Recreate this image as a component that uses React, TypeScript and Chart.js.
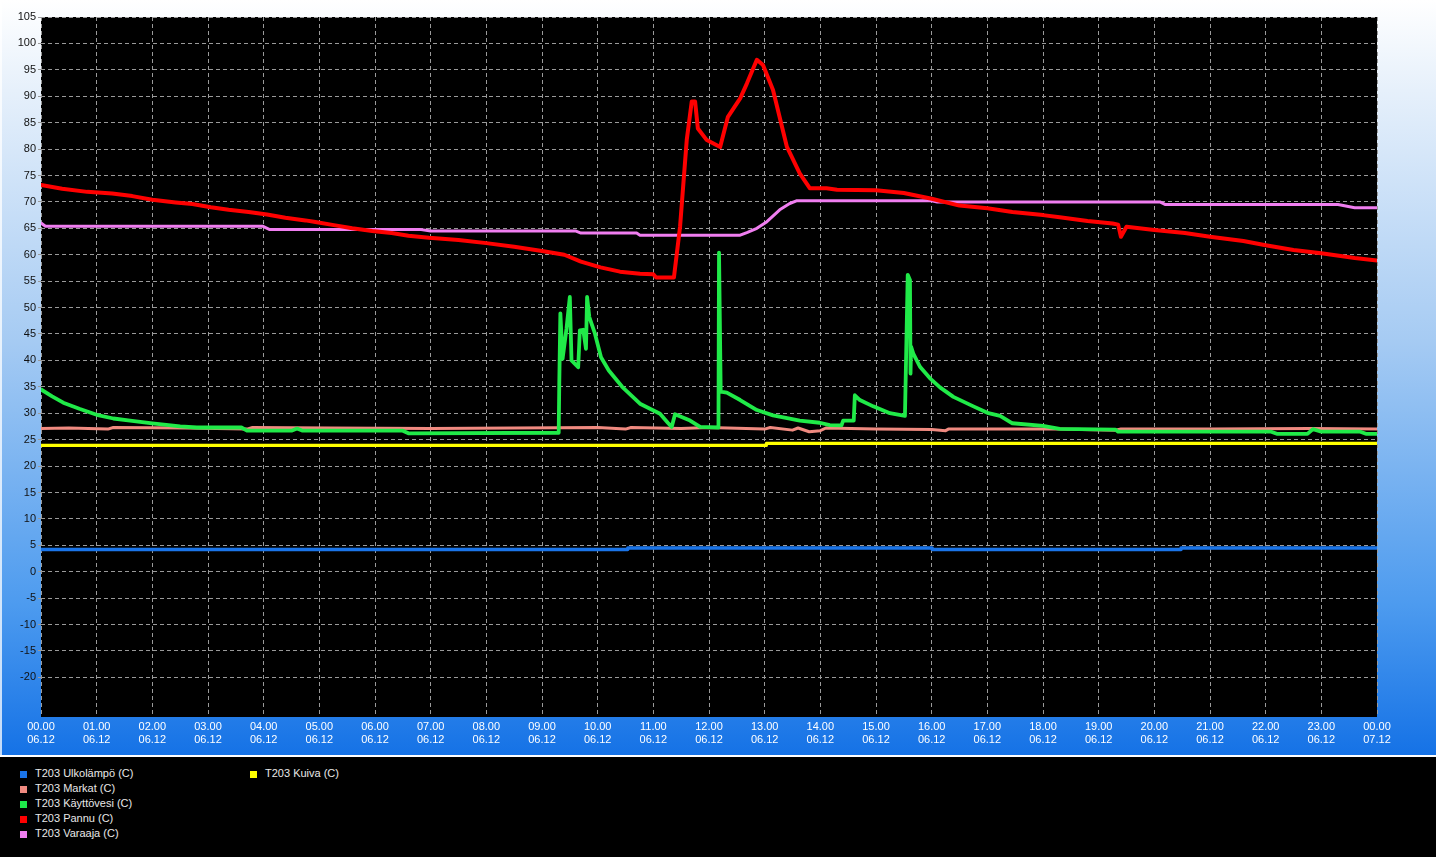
import React, { useEffect, useRef } from 'react';
import { Chart, registerables } from 'chart.js';

Chart.register(...registerables);

// ---------- tick labels ----------
const yTickValues = [-20, -15, -10, -5, 0, 5, 10, 15, 20, 25, 30, 35, 40, 45, 50, 55, 60, 65, 70, 75, 80, 85, 90, 95, 100, 105];
const xTickTimes = ['00.00', '01.00', '02.00', '03.00', '04.00', '05.00', '06.00', '07.00', '08.00', '09.00', '10.00', '11.00', '12.00', '13.00', '14.00', '15.00', '16.00', '17.00', '18.00', '19.00', '20.00', '21.00', '22.00', '23.00', '00.00'];
const xTickDates = ['06.12', '06.12', '06.12', '06.12', '06.12', '06.12', '06.12', '06.12', '06.12', '06.12', '06.12', '06.12', '06.12', '06.12', '06.12', '06.12', '06.12', '06.12', '06.12', '06.12', '06.12', '06.12', '06.12', '06.12', '07.12'];

// ---------- series (time in hours, value in °C) ----------
const ulkoT = [0, 10.54, 10.54, 16.01, 16.01, 20.48, 20.48, 24];
const ulkoV = [4.2, 4.2, 4.5, 4.5, 4.2, 4.2, 4.5, 4.5];

const kuivaT = [0, 13.03, 13.03, 24];
const kuivaV = [23.9, 23.9, 24.3, 24.3];

const markatT = [0, 0.5, 1.2, 1.3, 2.6, 3.7, 3.8, 5.2, 7.0, 8.5, 10.0, 10.5, 10.6, 11.5, 12.0, 13.0, 13.1, 13.5, 13.6, 13.8, 14.0, 14.1, 15.0, 16.0, 16.25, 16.3, 18.3, 19.3, 19.4, 21.0, 22.8, 24];
const markatV = [27.1, 27.2, 27.0, 27.3, 27.2, 27.0, 27.3, 27.2, 27.1, 27.2, 27.3, 27.0, 27.3, 27.1, 27.3, 27.0, 27.3, 26.8, 27.2, 26.5, 26.7, 27.2, 27.0, 26.9, 26.7, 27.0, 27.0, 26.8, 27.0, 27.0, 27.1, 27.0];

const kayttoT = [0, 0.2, 0.4, 0.7, 1.0, 1.3, 1.6, 2.0, 2.5, 2.8, 3.6, 3.7, 4.5, 4.6, 4.7, 6.5, 6.6, 9.3, 9.31, 9.33, 9.37, 9.44, 9.5, 9.53, 9.65, 9.68, 9.74, 9.79, 9.81, 9.85, 9.95, 10.06, 10.2, 10.44, 10.76, 11.12, 11.26, 11.33, 11.39, 11.66, 11.84, 12.17, 12.18, 12.21, 12.32, 12.56, 12.86, 13.15, 13.45, 13.63, 13.99, 14.17, 14.38, 14.41, 14.6, 14.62, 14.71, 14.95, 15.25, 15.52, 15.57, 15.61, 15.62, 15.63, 15.67, 15.79, 15.97, 16.15, 16.39, 16.75, 17.02, 17.23, 17.45, 18.0, 18.3, 19.3, 19.35, 22.1, 22.2, 22.75, 22.85, 23.0, 23.7, 23.8, 24];
const kayttoV = [34.5, 33.2, 32.0, 30.8, 29.7, 29.0, 28.6, 28.1, 27.5, 27.3, 27.3, 26.7, 26.7, 27.1, 26.7, 26.7, 26.2, 26.3, 35.3, 48.9, 40.3, 46.0, 52.0, 40.0, 38.7, 45.7, 45.8, 42.2, 52.0, 48.2, 45.1, 40.6, 38.1, 35.0, 31.8, 29.9, 28.2, 27.4, 29.8, 28.6, 27.4, 27.3, 60.4, 34.1, 33.9, 32.5, 30.6, 29.6, 29.0, 28.6, 28.2, 27.75, 27.7, 28.6, 28.6, 33.4, 32.5, 31.3, 30.0, 29.5, 56.2, 55.2, 37.5, 42.6, 41.3, 38.8, 36.6, 34.9, 33.1, 31.3, 30.0, 29.5, 28.1, 27.6, 27.05, 26.9, 26.5, 26.5, 26.1, 26.1, 27.0, 26.5, 26.5, 26.1, 26.1];

const pannuT = [0, 0.38, 0.83, 1.28, 1.64, 2.0, 2.42, 2.72, 3.05, 3.37, 3.73, 4.06, 4.39, 4.75, 4.93, 5.26, 5.59, 5.95, 6.3, 6.6, 6.97, 7.5, 8.0, 8.5, 9.0, 9.4, 9.7, 10.05, 10.4, 10.76, 11.0, 11.05, 11.37, 11.48, 11.6, 11.69, 11.75, 11.8, 11.96, 12.2, 12.34, 12.56, 12.68, 12.86, 12.97, 13.15, 13.4, 13.63, 13.81, 14.11, 14.3, 15.0, 15.5, 16.0, 16.5, 17.0, 17.45, 18.0, 18.3, 18.8, 19.25, 19.35, 19.4, 19.5, 20.0, 20.55, 21.0, 21.6, 22.0, 22.5, 23.0, 23.6, 24];
const pannuV = [73.2, 72.5, 71.9, 71.6, 71.1, 70.4, 69.9, 69.6, 69.0, 68.5, 68.1, 67.6, 67.0, 66.5, 66.2, 65.6, 65.0, 64.5, 64.1, 63.6, 63.2, 62.8, 62.2, 61.5, 60.7, 60.0, 58.7, 57.6, 56.8, 56.4, 56.3, 55.7, 55.7, 65.3, 81.7, 89.0, 89.0, 83.9, 81.7, 80.4, 86.1, 89.6, 92.4, 96.9, 95.9, 91.2, 80.4, 75.4, 72.6, 72.6, 72.3, 72.2, 71.7, 70.6, 69.3, 68.8, 68.1, 67.5, 67.1, 66.4, 65.9, 65.7, 63.4, 65.3, 64.7, 64.1, 63.4, 62.6, 61.8, 60.9, 60.3, 59.4, 58.9];

const varaajaT = [0, 0.08, 3.98, 4.1, 6.8, 7.0, 9.6, 9.7, 10.7, 10.76, 12.56, 12.68, 12.86, 13.04, 13.27, 13.45, 13.57, 16.0, 16.1, 20.1, 20.2, 23.3, 23.6, 24];
const varaajaV = [66.0, 65.4, 65.4, 64.8, 64.8, 64.5, 64.5, 64.1, 64.1, 63.7, 63.7, 64.2, 65.0, 66.25, 68.5, 69.7, 70.2, 70.2, 70.0, 70.0, 69.5, 69.5, 68.9, 68.9];

const legendItems = [
  { label: 'T203 Ulkolämpö (C)', color: '#1a74e8', col: 0, row: 0 },
  { label: 'T203 Markat (C)', color: '#f08a80', col: 0, row: 1 },
  { label: 'T203 Käyttövesi (C)', color: '#1ee84a', col: 0, row: 2 },
  { label: 'T203 Pannu (C)', color: '#ff0000', col: 0, row: 3 },
  { label: 'T203 Varaaja (C)', color: '#f07ef0', col: 0, row: 4 },
  { label: 'T203 Kuiva (C)', color: '#ffff00', col: 1, row: 0 },
];

const toPoints = (t: number[], v: number[]) => t.map((x, i) => ({ x, y: v[i] }));

const bgPlugin = {
  id: 'bgPlugin',
  beforeDraw(chart: any) {
    const { ctx, width, height, chartArea } = chart;
    ctx.save();
    const g = ctx.createLinearGradient(0, 0, 0, height);
    g.addColorStop(0, '#ffffff');
    g.addColorStop(0.12, '#e6f0fb');
    g.addColorStop(0.45, '#a6cbf3');
    g.addColorStop(0.8, '#4d9bef');
    g.addColorStop(1, '#1572e6');
    ctx.fillStyle = g;
    ctx.fillRect(0, 0, width, height);
    ctx.fillStyle = 'rgba(255,255,255,0.75)';
    ctx.fillRect(0, 0, 2, height);
    ctx.fillStyle = '#000000';
    ctx.fillRect(chartArea.left, chartArea.top, chartArea.right - chartArea.left, chartArea.bottom - chartArea.top);
    ctx.restore();
  },
};

const FONT = "'Liberation Sans', Arial, sans-serif";

export default function App() {
  const ref = useRef<HTMLCanvasElement | null>(null);

  useEffect(() => {
    document.body.style.margin = '0';
    const canvas = ref.current;
    if (!canvas) return;
    const mk = (label: string, t: number[], v: number[], color: string, w: number) => ({
      label,
      data: toPoints(t, v),
      borderColor: color,
      backgroundColor: color,
      borderWidth: w,
      pointRadius: 0,
      tension: 0,
      fill: false,
      borderJoinStyle: 'round',
      borderCapStyle: 'round',
    });
    const chart = new Chart(canvas, {
      type: 'line',
      data: {
        datasets: [
          mk('T203 Käyttövesi (C)', kayttoT, kayttoV, '#20ea48', 3.8),
          mk('T203 Pannu (C)', pannuT, pannuV, '#ff0000', 4),
          mk('T203 Markat (C)', markatT, markatV, '#f08a80', 3),
          mk('T203 Varaaja (C)', varaajaT, varaajaV, '#f07ef0', 3),
          mk('T203 Kuiva (C)', kuivaT, kuivaV, '#ffff00', 3.2),
          mk('T203 Ulkolämpö (C)', ulkoT, ulkoV, '#1a74e8', 3.4),
        ],
      },
      options: {
        responsive: false,
        animation: false,
        layout: { padding: { top: 17, right: 59, left: 0, bottom: 0 } },
        plugins: { legend: { display: false }, tooltip: { enabled: false } },
        scales: {
          x: {
            type: 'linear',
            min: 0,
            max: 24,
            afterBuildTicks: (s: any) => {
              s.ticks = xTickTimes.map((_, i) => ({ value: i }));
            },
            afterFit: (s: any) => {
              s.height = 38;
            },
            ticks: {
              autoSkip: false,
              maxRotation: 0,
              padding: 3,
              color: '#ffffff',
              font: { family: FONT, size: 11 },
              callback: (v: any) => [xTickTimes[v], xTickDates[v]],
            },
            grid: { color: '#9a9a9a', lineWidth: 1, drawTicks: false },
            border: { display: false, dash: [4, 3] },
          },
          y: {
            type: 'linear',
            min: -27.5,
            max: 105,
            afterBuildTicks: (s: any) => {
              s.ticks = yTickValues.map((v) => ({ value: v }));
            },
            afterFit: (s: any) => {
              s.width = 41;
            },
            ticks: {
              autoSkip: false,
              padding: 2,
              color: '#111111',
              font: { family: FONT, size: 11 },
            },
            grid: { color: '#9a9a9a', lineWidth: 1, tickLength: 3 },
            border: { display: false, dash: [4, 3] },
          },
        },
      },
      plugins: [bgPlugin],
    } as any);
    return () => chart.destroy();
  }, []);

  return (
    <div style={{ width: 1436, height: 857, position: 'relative', overflow: 'hidden' }}>
      <canvas ref={ref} width={1436} height={755} style={{ display: 'block' }} />
      <div style={{ position: 'relative', width: 1436, height: 100, background: '#000', borderTop: '2px solid #ffffff' }}>
        {legendItems.map((it) => (
          <div key={it.label}>
            <div
              style={{
                position: 'absolute',
                left: it.col === 0 ? 20 : 250,
                top: 14 + it.row * 15,
                width: 7,
                height: 7,
                background: it.color,
              }}
            />
            <div
              style={{
                position: 'absolute',
                left: it.col === 0 ? 35 : 265,
                top: 10 + it.row * 15,
                font: `11px ${FONT}`,
                lineHeight: '13px',
                color: '#e8e8e8',
                whiteSpace: 'nowrap',
              }}
            >
              {it.label}
            </div>
          </div>
        ))}
      </div>
    </div>
  );
}
